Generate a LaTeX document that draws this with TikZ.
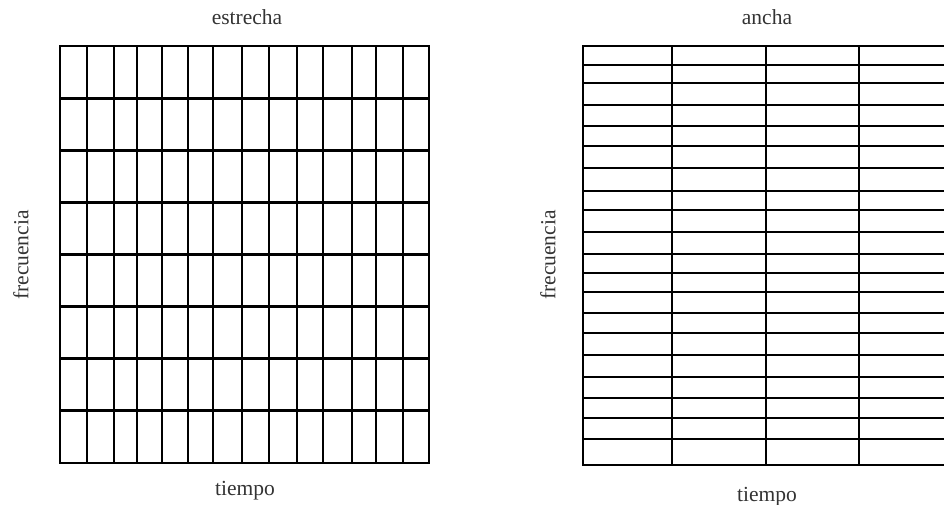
\documentclass[tikz,border=0pt]{standalone}
\usepackage{fontspec}
\setmainfont{Liberation Serif}
\begin{document}
\begin{tikzpicture}[x=1pt,y=-1pt,
  gridline/.style={line width=2.8pt,line cap=rect},
  lbl/.style={font=\fontsize{21.5}{24}\selectfont,inner sep=0pt,text=black!80}]
\useasboundingbox (0,0) rectangle (944,505);
\clip (0,0) rectangle (944,505);
% left grid
\foreach \x in {60,87,114,137,162,188,213,242,269,297,323,352,376,403,429}
  \draw[gridline] (\x,46) -- (\x,463);
\foreach \k in {0,...,8}
  \draw[gridline] (60,46+\k*52.125) -- (429,46+\k*52.125);
% right grid
\foreach \x in {583,672,766,859}
  \draw[gridline] (\x,46) -- (\x,465);
\foreach \y in {46,65,83,105,126,146,168,191,210,232,254,273,292,313,333,355,377,398,418,439,465}
  \draw[gridline] (583,\y) -- (960,\y);
% labels
\node[lbl] (est) at (247,17) {estrecha};
\node[lbl] (tl) at (245,491) {tiempo};
\node[lbl,rotate=90] (fl) at (21,255) {frecuencia};
\node[lbl] (an) at (767,17) {ancha};
\node[lbl] (tr) at (767,497) {tiempo};
\node[lbl,rotate=90] (fr) at (548,255) {frecuencia};
\end{tikzpicture}
\end{document}
